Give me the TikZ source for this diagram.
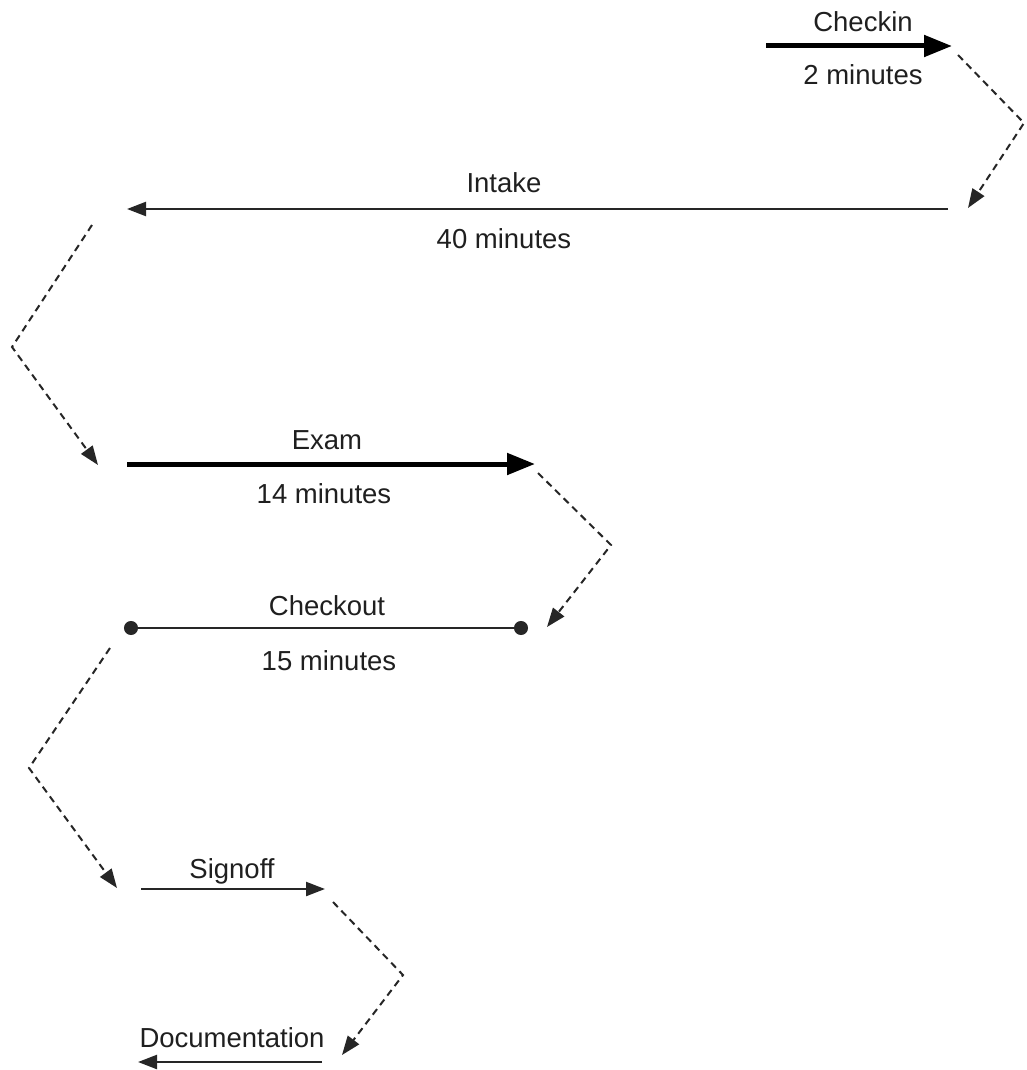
\documentclass[tikz,border=0pt]{standalone}
\usepackage{fontspec}
\setmainfont{Liberation Sans}
\usetikzlibrary{arrows.meta}
\begin{document}
\begin{tikzpicture}[x=1pt,y=-1pt,
  lbl/.style={font=\fontsize{27.5}{33}\selectfont, text=black!88, inner sep=0pt, anchor=base},
  bigarrow/.style={draw=black, line width=5pt, -{Triangle[length=28pt,width=21pt]}},
  thinarrow/.style={draw=black!85, line width=2.3pt, -{Triangle[length=19pt,width=14pt]}},
  dotline/.style={draw=black!85, line width=2.3pt, {Circle[length=14pt]}-{Circle[length=14pt]}},
  linkline/.style={draw=black!85, line width=2pt, dash pattern=on 7pt off 5pt, -{Triangle[length=19pt,width=14pt]}}
]
\useasboundingbox (0,0) rectangle (1026,1070);

% Checkin
\coordinate (ciS) at (766,46);
\coordinate (ciE) at (952,46);
\draw[bigarrow] (ciS) -- (ciE);
\node[lbl] (ciT) at (863,32) {Checkin};
\node[lbl] (ciD) at (863,85) {2 minutes};

% link 1
\coordinate (l1a) at (958,55);
\coordinate (l1b) at (1024,123);
\coordinate (l1c) at (968,208);
\draw[linkline] (l1a) -- (l1b) -- (l1c);

% Intake
\coordinate (inS) at (948,209);
\coordinate (inE) at (127,209);
\draw[thinarrow] (inS) -- (inE);
\node[lbl] (inT) at (504,192) {Intake};
\node[lbl] (inD) at (504,248) {40 minutes};

% link 2
\coordinate (l2a) at (92,225);
\coordinate (l2b) at (12,347);
\coordinate (l2c) at (98,465);
\draw[linkline] (l2a) -- (l2b) -- (l2c);

% Exam
\coordinate (exS) at (127,464);
\coordinate (exE) at (535,464);
\draw[bigarrow] (exS) -- (exE);
\node[lbl] (exT) at (327,449) {Exam};
\node[lbl] (exD) at (324,503) {14 minutes};

% link 3
\coordinate (l3a) at (538,473);
\coordinate (l3b) at (611,545);
\coordinate (l3c) at (547,627);
\draw[linkline] (l3a) -- (l3b) -- (l3c);

% Checkout
\coordinate (coS) at (124,628);
\coordinate (coE) at (528,628);
\draw[dotline] (coS) -- (coE);
\node[lbl] (coT) at (327,615) {Checkout};
\node[lbl] (coD) at (329,670) {15 minutes};

% link 4
\coordinate (l4a) at (110,648);
\coordinate (l4b) at (29,768);
\coordinate (l4c) at (117,888);
\draw[linkline] (l4a) -- (l4b) -- (l4c);

% Signoff
\coordinate (soS) at (141,889);
\coordinate (soE) at (325,889);
\draw[thinarrow] (soS) -- (soE);
\node[lbl] (soT) at (232,878) {Signoff};

% link 5
\coordinate (l5a) at (333,902);
\coordinate (l5b) at (403,975);
\coordinate (l5c) at (342,1055);
\draw[linkline] (l5a) -- (l5b) -- (l5c);

% Documentation
\coordinate (doS) at (322,1062);
\coordinate (doE) at (138,1062);
\draw[thinarrow] (doS) -- (doE);
\node[lbl] (doT) at (232,1047) {Documentation};
\end{tikzpicture}
\end{document}
